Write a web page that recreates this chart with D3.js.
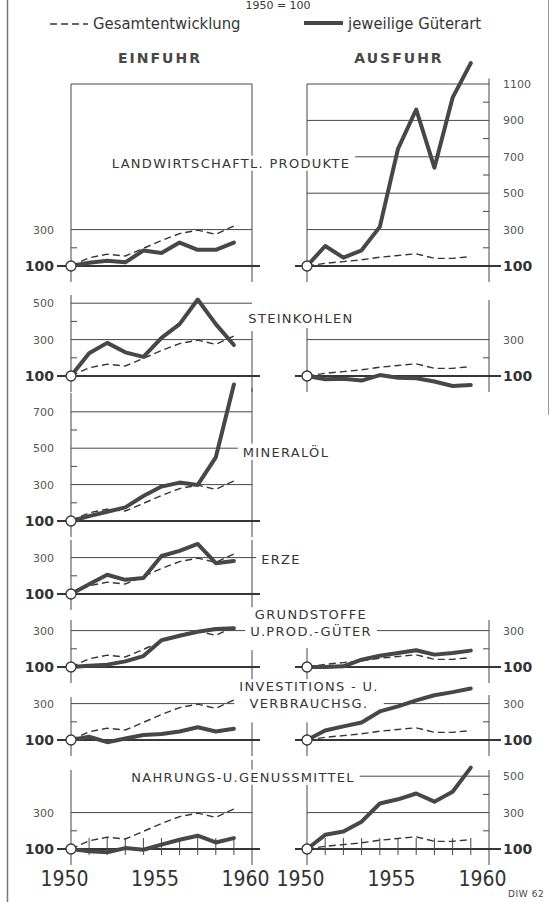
<!DOCTYPE html>
<html>
<head>
<meta charset="utf-8">
<script src="https://cdn.jsdelivr.net/npm/d3@7"></script>
<style>
  body { margin: 0; background: #fff; }
  svg { display: block; font-family: "DejaVu Sans", sans-serif; }
</style>
</head>
<body>
<svg width="553" height="902"></svg>
<script>
// ---- data (1950 = 100) ----
var years = d3.range(1950, 1960);
var gesamtEinfuhr   = [100, 145, 165, 155, 197, 240, 278, 297, 274, 320];
var gesamtAusfuhr   = [100, 115, 124, 134, 148, 158, 167, 142, 142, 152];
var landwirtEinfuhr = [100, 118, 129, 120, 185, 171, 229, 189, 189, 229];
var landwirtAusfuhr = [100, 210, 146, 186, 315, 744, 960, 640, 1025, 1215];
var kohleEinfuhr    = [100, 225, 282, 230, 205, 310, 385, 520, 385, 270];
var kohleAusfuhr    = [100, 82, 85, 75, 105, 90, 88, 70, 45, 50];
var oelEinfuhr      = [100, 127, 151, 175, 237, 289, 311, 298, 450, 850];
var erzeEinfuhr     = [100, 153, 206, 178, 188, 309, 337, 375, 269, 281];
var grundEinfuhr    = [100, 107, 113, 131, 160, 247, 272, 294, 309, 313];
var grundAusfuhr    = [100, 100, 104, 140, 162, 177, 192, 168, 177, 190];
var investEinfuhr   = [100, 118, 88, 108, 127, 133, 147, 170, 147, 162];
var investAusfuhr   = [100, 152, 175, 196, 257, 285, 318, 346, 363, 383];
var nahrEinfuhr     = [100, 87, 82, 105, 96, 124, 151, 173, 136, 160];
var nahrAusfuhr     = [100, 178, 196, 250, 350, 373, 405, 360, 415, 547];

var yearTicks = [1950, 1955, 1960];
var legendLabels = ["Gesamtentwicklung", "jeweilige Güterart"];
var sideLabels = ["EINFUHR", "AUSFUHR"];

// ---- layout ----
var svg = d3.select("svg");
var ink = "#363636", grey = "#474747";
var xEin = d3.scaleLinear().domain([1950, 1960]).range([71, 252]);
var xAus = d3.scaleLinear().domain([1950, 1960]).range([307, 489]);
var unit = 0.182; // px per index point

var rows = [
  { label: ["LANDWIRTSCHAFTL. PRODUKTE"], lx: 231, ly: 163, base: 266,
    ein: { data: landwirtEinfuhr, grid: [300, 1100], minor: [200], ticks: [300], vl: 1100, vr: 1100 },
    aus: { data: landwirtAusfuhr, grid: [300, 500, 700, 900, 1100], minor: [200, 400, 600, 800, 1000],
           ticks: [300, 500, 700, 900, 1100], vl: 1100, vr: 1130 } },
  { label: ["STEINKOHLEN"], lx: 301, ly: 318, base: 376,
    ein: { data: kohleEinfuhr, grid: [300, 500], minor: [200, 400], ticks: [300, 500], vl: 545, vr: 347 },
    aus: { data: kohleAusfuhr, grid: [300], minor: [200], ticks: [300], vl: 364, vr: 517 } },
  { label: ["MINERALÖL"], lx: 286, ly: 452, base: 521,
    ein: { data: oelEinfuhr, grid: [300, 500, 700], minor: [200, 400, 600], ticks: [300, 500, 700], vl: 803, vr: 830 } },
  { label: ["ERZE"], lx: 281, ly: 559, base: 594,
    ein: { data: erzeEinfuhr, grid: [300], minor: [200], ticks: [300], vl: 397, vr: 397, gridExt: 6 } },
  { label: ["GRUNDSTOFFE", "U.PROD.-GÜTER"], lx: 311, ly: 623, base: 667,
    ein: { data: grundEinfuhr, grid: [300], minor: [200], ticks: [300], vl: 358, vr: 193 },
    aus: { data: grundAusfuhr, grid: [300], minor: [200], ticks: [300], vl: 204, vr: 358 } },
  { label: ["INVESTITIONS - U.", "VERBRAUCHSG."], lx: 309, ly: 695, base: 740,
    ein: { data: investEinfuhr, grid: [300], minor: [200], ticks: [300], vl: 336, vr: 197 },
    aus: { data: investAusfuhr, grid: [300], minor: [200], ticks: [300], vl: 197, vr: 347 } },
  { label: ["NAHRUNGS-U.GENUSSMITTEL"], lx: 243, ly: 777, base: 849, yearMarks: true,
    ein: { data: nahrEinfuhr, grid: [300], minor: [200], ticks: [300], vl: 534, vr: 590 },
    aus: { data: nahrAusfuhr, grid: [300, 500], minor: [200, 400], ticks: [300, 500], vl: 453, vr: 534 } }
];

// ---- page frame, title, legend ----
svg.append("line").attr("x1", 7.5).attr("x2", 7.5).attr("y1", 0).attr("y2", 902)
  .attr("stroke", "#777").attr("stroke-width", 1.5);
svg.append("line").attr("x1", 548.5).attr("x2", 548.5).attr("y1", 0).attr("y2", 415)
  .attr("stroke", "#999").attr("stroke-width", 1);

svg.append("text").attr("x", 278).attr("y", 9).attr("text-anchor", "middle")
  .attr("font-size", 11).attr("fill", ink).text("1950 = 100");

svg.append("line").attr("x1", 50).attr("x2", 88).attr("y1", 24).attr("y2", 24)
  .attr("stroke", ink).attr("stroke-width", 1.4).attr("stroke-dasharray", "7,4");
svg.append("line").attr("x1", 304).attr("x2", 343).attr("y1", 23).attr("y2", 23)
  .attr("stroke", grey).attr("stroke-width", 4);
svg.selectAll(".leg").data(legendLabels).enter().append("text")
  .attr("x", function(d, i) { return i ? 348 : 93; })
  .attr("y", 29)
  .attr("font-family", "'DejaVu Sans Condensed', 'DejaVu Sans', sans-serif")
  .attr("font-size", 16.5).attr("fill", ink)
  .text(function(d) { return d; });

svg.selectAll(".side").data(sideLabels).enter().append("text")
  .attr("x", function(d, i) { return i ? 399 : 160; })
  .attr("y", 63).attr("text-anchor", "middle")
  .attr("font-size", 14).attr("font-weight", "bold").attr("letter-spacing", 2)
  .attr("fill", grey).text(function(d) { return d; });

// ---- panels ----
var line = function(x, y) {
  return d3.line().x(function(d, i) { return x(years[i]); }).y(function(d) { return y(d); });
};

function drawFrame(g, p, x, y, side) {
  var x0 = x.range()[0], x1 = x.range()[1];
  p.grid.forEach(function(v) {
    g.append("line").attr("x1", x0).attr("x2", x1 + (p.gridExt || 0))
      .attr("y1", y(v)).attr("y2", y(v)).attr("stroke", grey).attr("stroke-width", 1);
  });
  [[x0, p.vl], [x1, p.vr]].forEach(function(v) {
    g.append("line").attr("x1", v[0]).attr("x2", v[0])
      .attr("y1", y(v[1])).attr("y2", y(100) + 16).attr("stroke", grey).attr("stroke-width", 1);
  });
  // minor ticks on the labelled axis
  var ax = side === "ein" ? x0 : x1, dir = side === "ein" ? 1 : -1;
  p.minor.forEach(function(v) {
    g.append("line").attr("x1", ax).attr("x2", ax + dir * 6)
      .attr("y1", y(v)).attr("y2", y(v)).attr("stroke", grey).attr("stroke-width", 1);
  });
  // 100 baseline
  g.append("line").attr("x1", side === "ein" ? x0 - 14 : x0 - 12)
    .attr("x2", side === "ein" ? x1 + 8 : x1 + 12)
    .attr("y1", y(100)).attr("y2", y(100)).attr("stroke", ink).attr("stroke-width", 1.8);
}

function drawAxis(g, p, x, y, side) {
  var vals = p.ticks.concat([100]);
  var axis = side === "ein"
    ? d3.axisLeft(y).tickValues(vals).tickFormat(d3.format("d")).tickSize(0).tickPadding(17)
    : d3.axisRight(y).tickValues(vals).tickFormat(d3.format("d")).tickSize(0).tickPadding(14);
  var a = g.append("g")
    .attr("transform", "translate(" + (side === "ein" ? x.range()[0] : x.range()[1]) + ",0)")
    .call(axis);
  a.select(".domain").remove();
  a.selectAll("text")
    .attr("font-family", "'DejaVu Sans', sans-serif")
    .attr("font-size", function(d) { return d === 100 ? 14 : 11; })
    .attr("font-weight", function(d) { return d === 100 ? "bold" : "normal"; })
    .attr("fill", function(d) { return d === 100 ? "#333" : "#555"; });
}

function drawSeries(g, p, x, y, total) {
  g.append("path").datum(total).attr("d", line(x, y))
    .attr("fill", "none").attr("stroke", ink).attr("stroke-width", 1.4)
    .attr("stroke-dasharray", "7,4");
  g.append("path").datum(p.data).attr("d", line(x, y))
    .attr("fill", "none").attr("stroke", grey).attr("stroke-width", 4)
    .attr("stroke-linejoin", "round").attr("stroke-linecap", "round");
  g.append("circle").attr("cx", x(1950)).attr("cy", y(100)).attr("r", 5)
    .attr("fill", "#fff").attr("stroke", ink).attr("stroke-width", 1.3);
}

rows.forEach(function(r) {
  var y = d3.scaleLinear().domain([100, 300]).range([r.base, r.base - 200 * unit]);
  var g = svg.append("g");
  var sides = [["ein", xEin, gesamtEinfuhr], ["aus", xAus, gesamtAusfuhr]];

  sides.forEach(function(s) { if (r[s[0]]) drawFrame(g, r[s[0]], s[1], y, s[0]); });

  if (r.yearMarks) {
    sides.forEach(function(s) {
      g.selectAll(null).data(years.slice(1)).enter().append("line")
        .attr("x1", function(d) { return s[1](d); }).attr("x2", function(d) { return s[1](d); })
        .attr("y1", y(100) - 11).attr("y2", y(100) + 6)
        .attr("stroke", grey).attr("stroke-width", 1);
    });
  }

  // label with white backing
  var lg = g.append("g");
  var t = lg.append("text").attr("text-anchor", "middle")
    .attr("font-size", 13).attr("letter-spacing", 1.3).attr("fill", ink);
  r.label.forEach(function(l, i) {
    t.append("tspan").attr("x", r.lx)
      .attr("y", r.ly + (i - (r.label.length - 1) / 2) * 17)
      .attr("dy", "0.36em").text(l);
  });
  var bb = t.node().getBBox();
  lg.insert("rect", "text").attr("x", bb.x - 5).attr("y", bb.y)
    .attr("width", bb.width + 10).attr("height", bb.height).attr("fill", "#fff");

  sides.forEach(function(s) {
    if (!r[s[0]]) return;
    drawSeries(g, r[s[0]], s[1], y, s[2]);
    drawAxis(g, r[s[0]], s[1], y, s[0]);
  });
});

// ---- year axis ----
[xEin, xAus].forEach(function(x) {
  var a = svg.append("g").attr("transform", "translate(-7,868)")
    .call(d3.axisBottom(x).tickValues(yearTicks).tickFormat(d3.format("d")).tickSize(0).tickPadding(3));
  a.select(".domain").remove();
  a.selectAll("text")
    .attr("font-family", "'Liberation Sans Narrow', 'DejaVu Sans Condensed', sans-serif")
    .attr("font-size", 21).attr("fill", "#333");
});

svg.append("text").attr("x", 508).attr("y", 897).attr("font-size", 9)
  .attr("letter-spacing", 0.6).attr("fill", "#444").text("DIW 62");
</script>
</body>
</html>
